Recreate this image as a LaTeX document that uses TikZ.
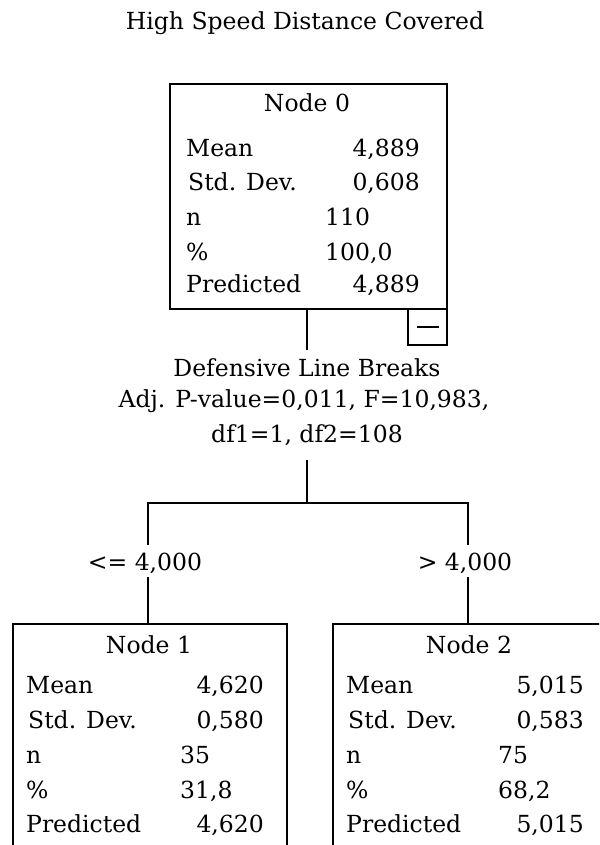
\documentclass[tikz,border=0pt]{standalone}
\usepackage{fontspec}
\setmainfont{DejaVu Serif}
\begin{document}
\begin{tikzpicture}[x=1pt,y=-1pt,
  box/.style={draw, line width=2pt, anchor=north west, inner sep=0pt},
  txt/.style={font=\fontsize{23.5}{26}\selectfont, inner sep=0pt},
  lbl/.style={txt, anchor=base west},
  val/.style={txt, anchor=base east},
  cnt/.style={txt, anchor=base west},
  conn/.style={line width=2pt}]
\useasboundingbox (0,0) rectangle (599,845);
\clip (0,0) rectangle (599,845);
% title
\node[txt, anchor=base] (title) at (305,30) {High Speed Distance Covered};
% node 0
\node[box, minimum width=277pt, minimum height=225pt] (n0) at (169,83) {};
\node[box, minimum width=39pt, minimum height=36pt] (minus) at (407,308) {};
\draw[line width=2pt] ([xshift=-11pt]minus.center) -- ([xshift=11pt]minus.center);
\node[txt, anchor=base] (n0t) at (307,112) {Node 0};
\node[lbl] (n0a) at (186,157) {Mean};      \node[val] (n0av) at (420,157) {4,889};
\node[lbl] (n0b) at (188,190) {Std. Dev.}; \node[val] (n0bv) at (420,190) {0,608};
\node[lbl] (n0c) at (186,225) {n};         \node[cnt] (n0cv) at (325,225) {110};
\node[lbl] (n0d) at (186,260) {\%};        \node[cnt] (n0dv) at (325,260) {100,0};
\node[lbl] (n0e) at (186,292) {Predicted}; \node[val] (n0ev) at (420,292) {4,889};
% split
\node[txt, anchor=base] (s1) at (307,376) {Defensive Line Breaks};
\node[txt, anchor=base] (s2) at (304,407) {Adj. P-value=0,011, F=10,983,};
\node[txt, anchor=base] (s3) at (307,442) {df1=1, df2=108};
\coordinate (sp) at (307,350);
\coordinate (j) at (307,460);
\coordinate (jm) at (307,503);
\coordinate (jl) at (148,503);
\coordinate (jr) at (468,503);
\coordinate (jl2) at (148,545);
\coordinate (jr2) at (468,545);
\coordinate (jl3) at (148,577);
\coordinate (jr3) at (468,577);
\node[txt, anchor=base] (c1) at (145,570) {<= 4,000};
\node[txt, anchor=base] (c2) at (465,570) {> 4,000};
% node 1
\node[box, minimum width=274pt, minimum height=240pt] (n1) at (12,623) {};
\node[txt, anchor=base] (n1t) at (149,653) {Node 1};
\node[lbl] (n1a) at (26,693) {Mean};      \node[val] (n1av) at (264,693) {4,620};
\node[lbl] (n1b) at (28,728) {Std. Dev.}; \node[val] (n1bv) at (264,728) {0,580};
\node[lbl] (n1c) at (26,763) {n};         \node[cnt] (n1cv) at (180,763) {35};
\node[lbl] (n1d) at (26,798) {\%};        \node[cnt] (n1dv) at (180,798) {31,8};
\node[lbl] (n1e) at (26,832) {Predicted}; \node[val] (n1ev) at (264,832) {4,620};
% node 2
\node[box, minimum width=274pt, minimum height=240pt] (n2) at (332,623) {};
\node[txt, anchor=base] (n2t) at (469,653) {Node 2};
\node[lbl] (n2a) at (346,693) {Mean};      \node[val] (n2av) at (584,693) {5,015};
\node[lbl] (n2b) at (348,728) {Std. Dev.}; \node[val] (n2bv) at (584,728) {0,583};
\node[lbl] (n2c) at (346,763) {n};         \node[cnt] (n2cv) at (498,763) {75};
\node[lbl] (n2d) at (346,798) {\%};        \node[cnt] (n2dv) at (498,798) {68,2};
\node[lbl] (n2e) at (346,832) {Predicted}; \node[val] (n2ev) at (584,832) {5,015};
% connectors
\draw[conn] (n0.south -| sp) -- (sp);
\draw[conn] (j) -- (jm);
\draw[conn] (jl2) -- (jl) -- (jr) -- (jr2);
\draw[conn] (jl3) -- (n1.north -| jl3);
\draw[conn] (jr3) -- (n2.north -| jr3);
\end{tikzpicture}
\end{document}
